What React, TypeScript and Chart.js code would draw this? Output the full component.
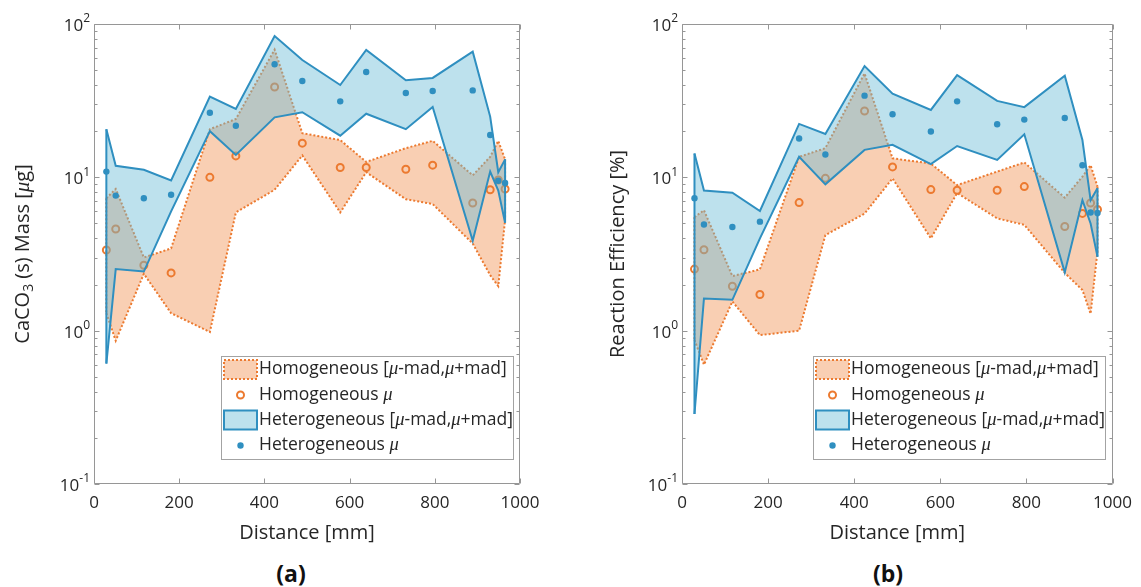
import React, { useEffect, useRef } from 'react';
import { Chart, registerables } from 'chart.js';

Chart.register(...registerables);

// ---------- data ----------
const distance = [29, 51, 117, 181, 272, 333, 424, 489, 578, 639, 732, 795, 889, 930, 949, 965];

// (a) CaCO3 (s) mass [ug]
const homMeanA = [3.36, 4.6, 2.67, 2.38, 10.0, 13.8, 38.8, 16.7, 11.6, 11.6, 11.3, 12.0, 6.8, 8.3, 9.6, 8.4];
const homUpperA = [7.3, 8.4, 3.0, 3.44, 20.6, 24.0, 68.0, 19.4, 17.5, 12.6, 15.5, 17.3, 10.3, 13.6, 17.3, 13.1];
const homLowerA = [1.3, 0.86, 2.35, 1.3, 0.98, 5.9, 8.3, 13.9, 5.9, 10.8, 7.2, 6.7, 3.7, 2.3, 1.95, 5.3];
const hetMeanA = [10.9, 7.6, 7.3, 7.7, 26.4, 21.7, 54.6, 42.5, 31.3, 48.6, 35.5, 36.6, 36.9, 18.9, 9.5, 9.2];
const hetUpperA = [20.6, 11.9, 11.2, 9.55, 33.6, 27.9, 83.5, 58.2, 40.0, 67.7, 43.0, 44.5, 66.0, 24.9, 10.8, 13.1];
const hetLowerA = [0.61, 2.52, 2.43, 6.0, 20.0, 14.0, 24.6, 26.6, 18.7, 26.0, 20.6, 28.8, 3.86, 10.9, 8.2, 5.06];

// (b) reaction efficiency [%]
const homMeanB = [2.52, 3.37, 1.95, 1.72, 6.84, 9.85, 27.1, 11.7, 8.32, 8.24, 8.24, 8.7, 4.78, 5.82, 6.8, 6.18];
const homUpperB = [5.5, 6.1, 2.27, 2.51, 13.6, 15.5, 47.6, 13.3, 12.3, 8.9, 10.9, 12.5, 7.37, 10.1, 12.0, 8.7];
const homLowerB = [0.87, 0.6, 1.55, 0.935, 1.0, 4.2, 5.8, 9.85, 4.0, 7.9, 5.4, 4.9, 2.38, 1.84, 1.29, 3.3];
const hetMeanB = [7.3, 4.93, 4.74, 5.14, 17.9, 14.1, 34.1, 25.8, 19.9, 31.3, 22.2, 23.8, 24.4, 12.0, 5.9, 5.85];
const hetUpperB = [14.3, 8.2, 7.94, 6.03, 22.3, 19.2, 53.2, 35.1, 27.5, 46.4, 31.5, 28.7, 46.0, 17.5, 7.1, 8.5];
const hetLowerB = [0.286, 1.62, 1.59, 4.0, 13.6, 9.0, 15.1, 16.3, 12.2, 16.0, 13.0, 19.1, 2.4, 7.1, 5.0, 3.04];

// ticks
const xTicks = [0, 200, 400, 600, 800, 1000];
const yDecades = [0.1, 1, 10, 100];
const yExponents = ['-1', '0', '1', '2'];
const yMinorMultipliers = [2, 3, 4, 5, 6, 7, 8, 9];

// labels
const xTitle = 'Distance [mm]';
const legendLabels = ['Homogeneous [', 'Homogeneous ', 'Heterogeneous [', 'Heterogeneous '];

// ---------- styles ----------
const BLUE = '#2F8FC0';
const BLUE_FILL = 'rgba(104,186,215,0.44)';
const ORANGE = '#EC7A30';
const ORANGE_FILL = 'rgba(238,125,49,0.37)';
const AXIS = '#969696';
const TEXT = '#262626';
const FONT = "'Open Sans', sans-serif";
const MU_FONT = "'Liberation Serif', serif";

type Seg = { t: string; sub?: boolean; it?: boolean };

function drawSegs(ctx: CanvasRenderingContext2D, segs: Seg[], x: number, y: number, size: number, align: 'left' | 'center') {
  const fontOf = (s: Seg) =>
    s.it ? `italic ${size + 1}px ${MU_FONT}` : `${s.sub ? Math.round(size * 0.7) : size}px ${FONT}`;
  let total = 0;
  const widths = segs.map((s) => {
    ctx.font = fontOf(s);
    const w = ctx.measureText(s.t).width;
    total += w;
    return w;
  });
  let cx = align === 'center' ? x - total / 2 : x;
  ctx.textBaseline = 'middle';
  ctx.textAlign = 'left';
  segs.forEach((s, i) => {
    ctx.font = fontOf(s);
    ctx.fillText(s.t, cx, y + (s.sub ? size * 0.32 : 0));
    cx += widths[i];
  });
}

function allYTicks() {
  const out: number[] = [];
  yDecades.forEach((d, i) => {
    out.push(d);
    if (i < yDecades.length - 1) yMinorMultipliers.forEach((m) => out.push(+(m * d).toPrecision(3)));
  });
  return out;
}

function makeDecor(cfg: { yTitle: Seg[]; yTitleX: number; legendRightGap: number }) {
  return {
    id: 'decor',
    afterDraw(chart: any) {
      const ctx: CanvasRenderingContext2D = chart.ctx;
      const a = chart.chartArea;
      const xs = chart.scales.x;
      const ys = chart.scales.y;
      ctx.save();
      // frame + inward ticks
      const L = Math.round(a.left) + 0.5;
      const R = Math.round(a.right) - 0.5;
      const T = Math.round(a.top) + 0.5;
      const B = Math.round(a.bottom) - 0.5;
      ctx.strokeStyle = AXIS;
      ctx.lineWidth = 1;
      ctx.setLineDash([]);
      ctx.beginPath();
      ctx.rect(L, T, R - L, B - T);
      xTicks.forEach((v) => {
        const p = Math.round(xs.getPixelForValue(v)) + 0.5;
        ctx.moveTo(p, B);
        ctx.lineTo(p, B - 5);
        ctx.moveTo(p, T);
        ctx.lineTo(p, T + 5);
      });
      ys.ticks.forEach((t: any) => {
        const p = Math.round(ys.getPixelForValue(t.value)) + 0.5;
        const len = yDecades.includes(t.value) ? 5 : 3;
        ctx.moveTo(L, p);
        ctx.lineTo(L + len, p);
        ctx.moveTo(R, p);
        ctx.lineTo(R - len, p);
      });
      ctx.stroke();

      // y tick labels 10^k
      ctx.fillStyle = TEXT;
      ctx.textBaseline = 'middle';
      ctx.textAlign = 'left';
      yDecades.forEach((d, i) => {
        const py = ys.getPixelForValue(d);
        ctx.font = `12px ${FONT}`;
        const ws = ctx.measureText(yExponents[i]).width;
        ctx.font = `17px ${FONT}`;
        const w10 = ctx.measureText('10').width;
        const right = a.left - 4;
        ctx.fillText('10', right - ws - w10, py + 2);
        ctx.font = `12px ${FONT}`;
        ctx.fillText(yExponents[i], right - ws, py - 5);
      });

      // y title (rotated)
      ctx.save();
      ctx.translate(cfg.yTitleX, (a.top + a.bottom) / 2);
      ctx.rotate(-Math.PI / 2);
      drawSegs(ctx, cfg.yTitle, 0, 0, 20, 'center');
      ctx.restore();

      // legend
      const lw = 293;
      const lh = 104;
      const lx = Math.round(a.right - cfg.legendRightGap - lw);
      const ly = Math.round(a.bottom - 24 - lh);
      ctx.fillStyle = '#ffffff';
      ctx.fillRect(lx, ly, lw, lh);
      ctx.strokeStyle = '#a3a3a3';
      ctx.lineWidth = 1;
      ctx.strokeRect(lx + 0.5, ly + 0.5, lw - 1, lh - 1);
      const rows = [13.5, 39, 64, 89.5];
      // row 0 swatch
      ctx.fillStyle = ORANGE_FILL;
      ctx.fillRect(lx + 3, ly + rows[0] - 9.5, 33, 19);
      ctx.strokeStyle = ORANGE;
      ctx.lineWidth = 2;
      ctx.setLineDash([2, 2]);
      ctx.strokeRect(lx + 3, ly + rows[0] - 9.5, 33, 19);
      ctx.setLineDash([]);
      // row 1 open circle
      ctx.beginPath();
      ctx.arc(lx + 19.5, ly + rows[1], 3.5, 0, Math.PI * 2);
      ctx.stroke();
      // row 2 blue swatch
      ctx.fillStyle = BLUE_FILL;
      ctx.fillRect(lx + 3, ly + rows[2] - 9.5, 33, 19);
      ctx.strokeStyle = BLUE;
      ctx.strokeRect(lx + 3, ly + rows[2] - 9.5, 33, 19);
      // row 3 dot
      ctx.fillStyle = BLUE;
      ctx.beginPath();
      ctx.arc(lx + 19.5, ly + rows[3], 3.2, 0, Math.PI * 2);
      ctx.fill();
      // texts
      ctx.fillStyle = TEXT;
      const bandSegs = (name: string): Seg[] => [
        { t: name },
        { t: '\u03bc', it: true },
        { t: '-mad,' },
        { t: '\u03bc', it: true },
        { t: '+mad]' },
      ];
      const meanSegs = (name: string): Seg[] => [{ t: name }, { t: '\u03bc', it: true }];
      drawSegs(ctx, bandSegs(legendLabels[0]), lx + 38, ly + rows[0], 17.5, 'left');
      drawSegs(ctx, meanSegs(legendLabels[1]), lx + 38, ly + rows[1], 17.5, 'left');
      drawSegs(ctx, bandSegs(legendLabels[2]), lx + 38, ly + rows[2], 17.5, 'left');
      drawSegs(ctx, meanSegs(legendLabels[3]), lx + 38, ly + rows[3], 17.5, 'left');

      ctx.restore();
    },
  };
}

function pts(ys: number[]) {
  return distance.map((x, i) => ({ x, y: ys[i] }));
}

// closing vertical edge of a band at index i (first or last sample)
function edge(upper: number[], lower: number[], i: number) {
  return [
    { x: distance[i], y: upper[i] },
    { x: distance[i], y: lower[i] },
  ];
}

function buildConfig(
  series: { homMean: number[]; homUpper: number[]; homLower: number[]; hetMean: number[]; hetUpper: number[]; hetLower: number[] },
  yAxisWidth: number,
  padRight: number,
  decor: any
): any {
  const yTicks = allYTicks();
  const last = distance.length - 1;
  const orangeLine = { borderColor: ORANGE, borderWidth: 2, borderDash: [2, 2], fill: false, pointRadius: 0, tension: 0 };
  const blueLine = { borderColor: BLUE, borderWidth: 2, fill: false, pointRadius: 0, tension: 0 };
  return {
    type: 'line',
    data: {
      datasets: [
        // 0 orange upper (fills to lower)
        { ...orangeLine, data: pts(series.homUpper), backgroundColor: ORANGE_FILL, fill: '+1', order: 6 },
        // 1 orange lower
        { ...orangeLine, data: pts(series.homLower), order: 5 },
        // 2,3 orange band end edges
        { ...orangeLine, data: edge(series.homUpper, series.homLower, 0), order: 5 },
        { ...orangeLine, data: edge(series.homUpper, series.homLower, last), order: 5 },
        // 4 orange mean
        {
          data: pts(series.homMean),
          showLine: false,
          pointRadius: 3.5,
          pointBorderWidth: 2,
          pointBorderColor: ORANGE,
          pointBackgroundColor: 'rgba(0,0,0,0)',
          borderColor: ORANGE,
          order: 4,
        },
        // 5 blue upper (fills to lower)
        { ...blueLine, data: pts(series.hetUpper), backgroundColor: BLUE_FILL, fill: '+1', order: 3 },
        // 6 blue lower
        { ...blueLine, data: pts(series.hetLower), order: 2 },
        // 7,8 blue band end edges
        { ...blueLine, data: edge(series.hetUpper, series.hetLower, 0), order: 2 },
        { ...blueLine, data: edge(series.hetUpper, series.hetLower, last), order: 2 },
        // 9 blue mean
        {
          data: pts(series.hetMean),
          showLine: false,
          pointRadius: 3.2,
          pointBorderWidth: 0,
          pointBackgroundColor: BLUE,
          borderColor: BLUE,
          order: 1,
        },
      ],
    },
    options: {
      animation: false,
      responsive: false,
      events: [],
      layout: { padding: { left: 0, top: 24, right: padRight, bottom: 0 } },
      plugins: { legend: { display: false }, tooltip: { enabled: false } },
      scales: {
        x: {
          type: 'linear',
          min: 0,
          max: 1000,
          afterBuildTicks: (s: any) => {
            s.ticks = xTicks.map((v) => ({ value: v }));
          },
          afterFit: (s: any) => {
            s.height = 66;
          },
          grid: { display: false, drawTicks: false },
          border: { display: false },
          ticks: {
            color: TEXT,
            font: { size: 17, family: FONT },
            padding: 9,
            maxRotation: 0,
            autoSkip: false,
            callback: (v: any) => String(v),
          },
          title: { display: true, text: xTitle, color: TEXT, font: { size: 20, family: FONT }, padding: { top: 0, bottom: 5 } },
        },
        y: {
          type: 'logarithmic',
          min: 0.1,
          max: 100,
          afterBuildTicks: (s: any) => {
            s.ticks = yTicks.map((v) => ({ value: v }));
          },
          afterFit: (s: any) => {
            s.width = yAxisWidth;
          },
          grid: { display: false, drawTicks: false },
          border: { display: false },
          ticks: { display: false },
          title: { display: false },
        },
      },
    },
    plugins: [decor],
  };
}

function Panel(props: { left: number; width: number; cfg: any }) {
  const ref = useRef<HTMLCanvasElement | null>(null);
  useEffect(() => {
    if (!ref.current) return;
    const chart = new Chart(ref.current, props.cfg);
    return () => chart.destroy();
  }, []);
  return (
    <canvas
      ref={ref}
      width={props.width}
      height={550}
      style={{ position: 'absolute', left: props.left, top: 0, width: props.width, height: 550 }}
    />
  );
}

const cfgA = buildConfig(
  { homMean: homMeanA, homUpper: homUpperA, homLower: homLowerA, hetMean: hetMeanA, hetUpper: hetUpperA, hetLower: hetLowerA },
  94,
  40,
  makeDecor({
    yTitle: [{ t: 'CaCO' }, { t: '3', sub: true }, { t: ' (s) Mass [' }, { t: '\u03bc', it: true }, { t: 'g]' }],
    yTitleX: 23,
    legendRightGap: 6,
  })
);

const cfgB = buildConfig(
  { homMean: homMeanB, homUpper: homUpperB, homLower: homLowerB, hetMean: hetMeanB, hetUpper: hetUpperB, hetLower: hetLowerB },
  102,
  24,
  makeDecor({
    yTitle: [{ t: 'Reaction Efficiency [%]' }],
    yTitleX: 38,
    legendRightGap: 7,
  })
);

export default function App() {
  Chart.defaults.font.family = FONT;
  const cap: React.CSSProperties = {
    position: 'absolute',
    top: 558,
    width: 100,
    textAlign: 'center',
    font: `bold 23px ${FONT}`,
    lineHeight: '30px',
    color: '#111',
  };
  return (
    <div style={{ position: 'absolute', left: 0, top: 0, width: 1141, height: 587, background: '#fff', overflow: 'hidden' }}>
      <Panel left={0} width={560} cfg={cfgA} />
      <Panel left={580} width={561} cfg={cfgB} />
      <div style={{ ...cap, left: 291 - 50 }}>(a)</div>
      <div style={{ ...cap, left: 888 - 50 }}>(b)</div>
    </div>
  );
}
